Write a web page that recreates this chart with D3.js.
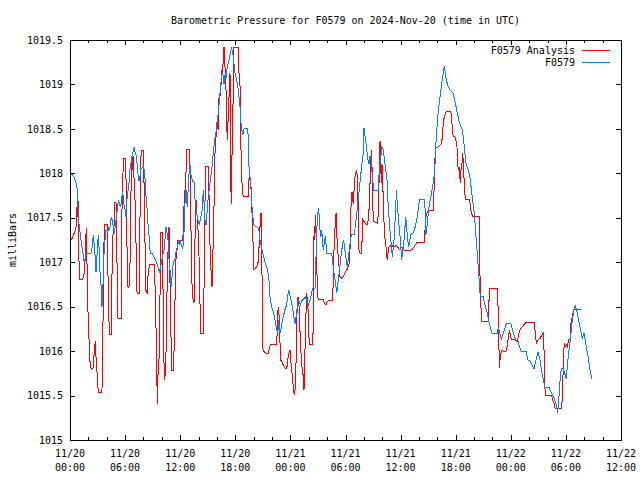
<!DOCTYPE html>
<html><head><meta charset="utf-8">
<script src="https://cdn.jsdelivr.net/npm/d3@7"></script>
<style>
body{margin:0;background:#fff}
text{font-family:"DejaVu Sans Mono",monospace;font-size:10px;fill:#000}
</style>
</head><body><svg id="c" width="640" height="480"></svg>
<script>
const title = "Barometric Pressure for F0579 on 2024-Nov-20 (time in UTC)";
const yLabel = "milliBars";
const seriesNames = ["F0579 Analysis", "F0579"];
const seriesColors = ["#ff0000", "#0a7cff"];
const startTime = Date.UTC(2024, 10, 20, 0, 0);
const xTickHours = [0, 6, 12, 18, 24, 30, 36, 42, 48, 54, 60];
const xTickDates = ["11/20","11/20","11/20","11/20","11/21","11/21","11/21","11/21","11/22","11/22","11/22"];
const xTickTimes = ["00:00","06:00","12:00","18:00","00:00","06:00","12:00","18:00","00:00","06:00","12:00"];
const yTicks = [1015, 1015.5, 1016, 1016.5, 1017, 1017.5, 1018, 1018.5, 1019, 1019.5];

// [hours since 2024-11-20 00:00 UTC, pressure mb]
const analysisData = [[0,1017.29],[0.2,1017.26],[0.65,1017.38],[0.73,1017.62],[0.80,1017.51],[0.87,1017.70],[0.95,1017.25],[1.01,1016.81],[1.38,1016.81],[1.45,1016.84],[1.56,1016.88],[1.63,1016.99],[1.71,1017.25],[1.78,1017.38],[1.85,1016.99],[1.93,1016.63],[1.99,1016.27],[2.10,1016.09],[2.18,1015.88],[2.32,1015.79],[2.51,1015.81],[2.58,1015.90],[2.65,1016.01],[2.75,1016.11],[2.83,1015.94],[2.91,1015.82],[3.02,1015.64],[3.08,1015.54],[3.48,1015.54],[3.56,1016.01],[3.63,1016.65],[3.70,1017.21],[3.78,1017.43],[4.06,1017.43],[4.14,1016.84],[4.21,1016.50],[4.28,1016.19],[4.50,1016.19],[4.57,1016.84],[4.65,1017.25],[4.72,1017.36],[4.79,1017.40],[4.87,1017.67],[5.01,1017.67],[5.08,1017.36],[5.15,1016.69],[5.23,1016.37],[5.59,1016.37],[5.66,1017.59],[5.74,1017.81],[5.80,1018.17],[6.02,1018.17],[6.10,1017.93],[6.17,1017.44],[6.24,1016.95],[6.32,1016.71],[6.46,1016.74],[6.53,1016.93],[6.61,1017.74],[6.67,1017.85],[6.75,1018.19],[6.83,1018.04],[6.89,1018.19],[7.00,1017.85],[7.08,1017.70],[7.15,1017.44],[7.22,1017.03],[7.30,1016.65],[7.55,1016.65],[7.62,1017.48],[7.70,1018.11],[7.76,1018.26],[7.98,1018.26],[8.06,1017.89],[8.13,1017.44],[8.20,1017.03],[8.28,1016.67],[8.42,1016.65],[8.49,1016.84],[8.57,1016.90],[8.64,1016.98],[9.15,1016.98],[9.22,1016.91],[9.29,1016.59],[9.37,1016.24],[9.44,1015.81],[9.51,1015.41],[9.58,1015.73],[9.66,1015.79],[9.72,1016.01],[9.80,1016.61],[9.88,1017.33],[10.05,1017.33],[10.13,1016.69],[10.20,1016.09],[10.27,1015.68],[10.34,1015.71],[10.42,1015.86],[10.49,1016.13],[10.56,1016.65],[10.64,1016.99],[10.70,1017.21],[10.78,1017.40],[10.85,1016.99],[10.92,1016.61],[11.00,1016.16],[11.07,1015.78],[11.25,1015.78],[11.32,1015.98],[11.40,1016.35],[11.47,1016.80],[11.54,1017.03],[11.68,1017.16],[11.76,1017.25],[12.27,1017.25],[12.34,1017.36],[12.41,1017.62],[12.52,1017.81],[12.63,1018.00],[12.71,1018.27],[12.99,1018.27],[13.07,1018.00],[13.14,1017.70],[13.18,1017.33],[13.25,1016.91],[13.32,1016.61],[13.43,1016.58],[13.50,1016.54],[13.58,1016.88],[13.64,1017.55],[13.72,1017.70],[13.80,1017.59],[13.90,1017.40],[13.97,1017.33],[14.05,1017.06],[14.13,1016.69],[14.19,1016.35],[14.26,1016.20],[14.52,1016.20],[14.59,1016.69],[14.67,1017.25],[14.73,1018.07],[15.03,1018.08],[15.10,1017.93],[15.17,1017.62],[15.24,1017.21],[15.32,1016.95],[15.39,1016.88],[15.46,1016.72],[15.54,1017.03],[15.60,1017.25],[15.68,1017.62],[15.75,1018.00],[15.82,1018.38],[15.90,1018.41],[15.97,1018.49],[16.04,1018.64],[16.12,1018.49],[16.19,1018.79],[16.26,1018.90],[16.33,1018.86],[16.41,1018.94],[16.48,1019.05],[16.55,1019.16],[16.63,1019.13],[16.69,1019.31],[16.77,1019.42],[16.84,1019.28],[16.91,1019.13],[16.99,1018.94],[17.06,1018.56],[17.13,1018.38],[17.20,1018.56],[17.28,1018.75],[17.35,1018.97],[17.42,1019.13],[17.50,1018.75],[17.53,1017.81],[17.56,1017.66],[17.61,1018.11],[17.67,1018.30],[17.75,1018.75],[17.78,1019.42],[18.33,1019.42],[18.40,1019.13],[18.51,1019.01],[18.59,1018.49],[18.65,1018.07],[18.73,1017.89],[18.81,1017.78],[18.87,1017.74],[19.42,1017.74],[19.49,1017.93],[19.60,1017.96],[19.68,1017.85],[19.74,1017.81],[19.82,1017.55],[19.89,1017.40],[19.96,1017.08],[20.04,1016.91],[20.33,1016.95],[20.47,1016.99],[20.61,1017.21],[20.69,1017.40],[20.80,1017.55],[20.87,1017.29],[20.94,1016.50],[21.02,1016.01],[21.16,1015.99],[21.34,1015.98],[21.59,1015.97],[21.70,1016.03],[21.85,1016.08],[22.51,1016.08],[22.57,1016.24],[22.65,1016.46],[22.73,1016.50],[22.79,1016.31],[22.87,1016.09],[22.94,1015.90],[23.08,1015.88],[23.23,1015.84],[23.44,1015.81],[23.60,1015.80],[23.74,1015.92],[23.85,1015.98],[23.96,1016.01],[24.03,1015.90],[24.14,1015.79],[24.25,1015.68],[24.32,1015.58],[24.39,1015.53],[24.47,1015.51],[24.53,1015.60],[24.61,1015.86],[24.68,1016.20],[24.75,1016.61],[24.82,1016.50],[24.90,1016.61],[24.97,1016.43],[25.04,1016.24],[25.12,1016.05],[25.23,1015.84],[25.34,1015.79],[25.41,1015.68],[25.48,1015.56],[25.56,1015.90],[25.62,1016.13],[25.70,1016.43],[25.77,1016.65],[25.84,1016.58],[25.91,1016.50],[25.99,1016.24],[26.06,1016.07],[26.43,1016.07],[26.49,1016.31],[26.57,1017.29],[26.64,1017.25],[26.71,1017.53],[26.79,1017.33],[26.86,1017.14],[26.93,1016.61],[27.08,1016.58],[27.58,1016.58],[27.69,1016.54],[27.88,1016.52],[28.02,1016.56],[28.31,1016.57],[28.56,1016.57],[28.67,1016.76],[28.75,1017.14],[28.82,1017.33],[28.89,1017.44],[28.97,1017.55],[29.04,1017.33],[29.15,1017.14],[29.26,1016.99],[29.40,1016.84],[29.59,1016.82],[29.76,1016.84],[29.95,1016.88],[30.13,1016.91],[30.30,1016.95],[30.41,1016.99],[30.49,1017.14],[30.56,1017.51],[30.63,1017.70],[30.71,1017.79],[30.78,1017.70],[30.85,1017.66],[30.93,1017.81],[31.03,1017.96],[31.22,1018.04],[31.33,1017.89],[31.39,1017.51],[31.47,1017.14],[31.58,1017.10],[31.76,1017.10],[31.87,1017.48],[32.12,1017.44],[32.34,1017.42],[32.48,1017.48],[32.56,1017.59],[32.67,1017.89],[32.74,1018.07],[32.81,1018.26],[32.89,1018.07],[32.96,1017.70],[33.03,1017.46],[33.46,1017.44],[33.54,1017.51],[33.61,1017.70],[33.68,1018.04],[33.76,1018.36],[33.83,1018.11],[33.90,1017.89],[33.97,1018.11],[34.05,1017.89],[34.12,1017.70],[34.19,1017.46],[34.27,1017.29],[34.41,1017.17],[34.49,1017.06],[34.55,1017.03],[34.63,1017.10],[34.70,1017.17],[35.03,1017.19],[35.28,1017.17],[35.57,1017.19],[35.86,1017.14],[36.12,1017.17],[36.30,1017.14],[36.48,1017.13],[37.02,1017.13],[37.21,1017.14],[37.38,1017.16],[37.57,1017.19],[37.75,1017.22],[38.55,1017.22],[38.62,1017.31],[38.69,1017.40],[38.76,1017.51],[38.87,1017.55],[39.02,1017.58],[39.56,1017.58],[39.64,1017.81],[39.71,1018.11],[39.82,1018.28],[40.10,1018.30],[40.29,1018.32],[40.47,1018.34],[40.54,1018.41],[40.65,1018.56],[40.76,1018.64],[40.91,1018.68],[41.02,1018.70],[41.45,1018.70],[41.56,1018.64],[41.63,1018.49],[41.74,1018.41],[41.92,1018.41],[42.00,1018.38],[42.10,1018.34],[42.17,1018.26],[42.25,1018.07],[42.32,1018.04],[42.39,1018.07],[42.50,1017.89],[42.58,1018.04],[42.68,1018.11],[42.76,1018.23],[42.83,1018.11],[42.90,1017.96],[42.98,1017.81],[43.04,1017.71],[43.48,1017.71],[43.56,1017.66],[43.63,1017.59],[43.74,1017.55],[43.85,1017.51],[44.54,1017.51],[44.57,1017.21],[44.65,1016.84],[44.72,1016.65],[44.79,1016.33],[45.55,1016.33],[45.63,1016.58],[45.70,1016.71],[46.53,1016.71],[46.61,1016.50],[46.68,1016.24],[46.75,1015.81],[46.82,1015.90],[46.90,1015.96],[47.01,1016.01],[47.37,1015.99],[47.55,1016.01],[47.62,1016.07],[47.70,1016.13],[47.77,1016.16],[47.84,1016.24],[47.91,1016.20],[47.99,1016.16],[48.10,1016.13],[48.46,1016.13],[48.64,1016.11],[48.82,1016.16],[48.89,1016.20],[49.00,1016.24],[49.11,1016.26],[49.22,1016.27],[49.36,1016.29],[49.54,1016.31],[49.65,1016.32],[50.56,1016.32],[50.63,1016.24],[50.71,1016.16],[50.78,1016.09],[50.88,1016.11],[50.99,1016.13],[51.18,1016.14],[51.36,1016.18],[51.54,1016.20],[51.61,1016.05],[51.69,1015.68],[51.75,1015.50],[52.45,1015.50],[52.52,1015.47],[52.63,1015.43],[52.74,1015.41],[52.81,1015.36],[53.54,1015.36],[53.61,1015.49],[53.68,1015.71],[53.76,1015.98],[53.83,1016.09],[53.94,1016.05],[54.04,1016.07],[54.15,1016.05],[54.23,1016.09],[54.30,1016.13],[54.44,1016.13],[54.52,1016.24],[54.55,1016.31],[54.70,1016.39],[54.77,1016.43],[54.85,1016.47],[55.61,1016.47]];

const stationData = [[0,1018.00],[0.29,1017.98],[0.47,1017.95],[0.65,1017.89],[0.76,1017.84],[0.84,1017.70],[0.90,1017.53],[1.01,1017.40],[1.20,1017.25],[1.38,1017.12],[1.56,1016.99],[1.74,1017.10],[2.29,1017.10],[2.40,1017.16],[2.54,1017.31],[2.65,1017.17],[2.75,1017.05],[2.83,1016.89],[3.02,1017.22],[3.08,1017.31],[3.16,1017.17],[3.23,1017.01],[3.30,1016.80],[3.41,1016.72],[3.48,1016.50],[3.56,1016.65],[3.67,1016.99],[3.73,1017.16],[3.81,1017.25],[3.92,1017.36],[4.03,1017.36],[4.11,1017.33],[4.21,1017.40],[4.32,1017.36],[4.43,1017.47],[4.54,1017.50],[4.65,1017.44],[4.76,1017.36],[4.82,1017.33],[4.93,1017.40],[5.09,1017.55],[5.19,1017.62],[5.26,1017.70],[5.37,1017.67],[5.48,1017.62],[5.59,1017.67],[5.66,1017.74],[5.74,1017.79],[5.80,1017.72],[5.91,1017.62],[6.02,1017.59],[6.10,1017.51],[6.17,1017.67],[6.28,1017.78],[6.39,1017.85],[6.46,1017.93],[6.53,1018.04],[6.64,1018.11],[6.75,1018.19],[6.83,1018.23],[6.94,1018.26],[7.00,1018.30],[7.08,1018.24],[7.19,1018.21],[7.30,1018.11],[7.40,1018.00],[7.51,1017.91],[7.62,1017.96],[7.73,1018.06],[7.84,1018.06],[7.98,1018.07],[8.09,1018.04],[8.20,1017.89],[8.28,1017.74],[8.38,1017.62],[8.46,1017.47],[8.57,1017.36],[8.64,1017.25],[8.74,1017.10],[8.93,1017.10],[9.15,1017.06],[9.29,1017.03],[9.44,1016.99],[9.58,1016.95],[9.72,1016.89],[9.88,1016.95],[9.99,1017.01],[10.09,1017.08],[10.24,1017.14],[10.34,1017.25],[10.45,1017.40],[10.56,1017.33],[10.67,1017.25],[10.81,1016.99],[10.92,1016.88],[11.00,1016.72],[11.11,1016.84],[11.22,1016.97],[11.36,1017.03],[11.47,1017.06],[11.58,1017.14],[11.73,1017.19],[11.84,1017.25],[11.95,1017.19],[12.01,1017.25],[12.12,1017.19],[12.27,1017.16],[12.38,1017.22],[12.49,1017.59],[12.56,1017.74],[12.63,1017.81],[12.77,1017.62],[12.88,1017.85],[12.99,1018.04],[13.07,1018.09],[13.18,1017.98],[13.36,1017.91],[13.50,1017.91],[13.64,1017.66],[13.86,1017.51],[14.08,1017.42],[14.16,1017.46],[14.37,1017.57],[14.52,1017.81],[14.59,1017.68],[14.70,1017.48],[14.81,1017.42],[14.92,1017.55],[15.03,1017.70],[15.24,1017.89],[15.46,1018.07],[15.71,1018.34],[15.93,1018.49],[16.15,1018.69],[16.33,1018.88],[16.48,1019.07],[16.63,1019.14],[16.77,1019.01],[16.91,1019.13],[16.99,1019.07],[17.13,1019.20],[17.35,1019.29],[17.50,1019.37],[17.59,1019.42],[17.78,1019.31],[17.97,1019.13],[18.15,1019.05],[18.33,1018.94],[18.51,1018.75],[18.59,1018.60],[18.70,1018.49],[18.81,1018.43],[18.98,1018.51],[19.35,1018.51],[19.42,1018.38],[19.49,1018.07],[19.71,1017.85],[19.79,1017.66],[20.00,1017.42],[20.55,1017.38],[20.69,1017.25],[20.94,1017.12],[21.16,1017.03],[21.42,1016.95],[21.64,1016.84],[21.78,1016.61],[21.96,1016.50],[22.14,1016.44],[22.36,1016.33],[22.51,1016.24],[22.62,1016.20],[22.73,1016.35],[22.79,1016.27],[22.90,1016.20],[23.01,1016.27],[23.23,1016.39],[23.44,1016.48],[23.60,1016.52],[23.71,1016.63],[23.82,1016.69],[24.03,1016.59],[24.25,1016.48],[24.42,1016.35],[24.53,1016.31],[24.75,1016.50],[24.86,1016.58],[25.08,1016.52],[25.30,1016.58],[25.51,1016.59],[25.62,1016.61],[25.84,1016.56],[25.95,1016.52],[26.17,1016.58],[26.38,1016.69],[26.49,1016.71],[26.68,1016.71],[26.79,1017.06],[26.93,1017.51],[27.08,1017.61],[27.22,1017.36],[27.33,1017.29],[27.41,1017.36],[27.58,1017.14],[27.80,1017.29],[27.98,1017.10],[28.50,1017.10],[28.71,1016.91],[28.93,1016.76],[29.04,1016.65],[29.26,1016.84],[29.48,1017.04],[29.69,1017.21],[29.80,1017.25],[29.98,1017.10],[30.20,1016.95],[30.41,1017.14],[30.63,1017.31],[30.96,1017.31],[31.18,1017.51],[31.39,1017.70],[31.61,1017.93],[31.83,1018.15],[31.94,1018.23],[32.01,1018.51],[32.23,1018.34],[32.45,1018.15],[32.56,1018.11],[32.67,1018.19],[32.78,1018.15],[32.96,1017.93],[33.07,1017.81],[33.57,1017.81],[33.68,1018.04],[33.81,1018.15],[33.97,1018.30],[34.08,1018.28],[34.30,1018.11],[34.52,1017.93],[34.59,1017.74],[34.81,1017.40],[35.03,1017.14],[35.10,1017.06],[35.28,1017.25],[35.47,1017.59],[35.53,1017.81],[35.75,1017.51],[35.97,1017.25],[36.12,1017.03],[36.34,1017.21],[36.56,1017.51],[36.77,1017.25],[36.88,1017.17],[37.10,1017.31],[37.38,1017.33],[37.60,1017.40],[37.82,1017.51],[38.04,1017.70],[38.55,1017.71],[38.66,1017.61],[38.76,1017.31],[38.87,1017.40],[39.09,1017.62],[39.42,1017.81],[39.64,1017.96],[39.75,1018.11],[39.82,1018.30],[40.04,1018.64],[40.29,1018.86],[40.47,1019.01],[40.69,1019.16],[40.76,1019.21],[40.98,1019.05],[41.19,1018.97],[41.52,1018.92],[41.74,1018.90],[41.96,1018.79],[42.17,1018.68],[42.39,1018.58],[42.61,1018.51],[42.72,1018.49],[42.83,1018.41],[43.04,1018.19],[43.15,1018.09],[43.37,1018.04],[43.59,1017.93],[43.74,1017.78],[43.92,1017.64],[44.02,1017.55],[44.18,1017.33],[44.35,1017.10],[44.50,1016.88],[44.65,1016.65],[44.72,1016.61],[45.00,1016.61],[45.22,1016.50],[45.44,1016.43],[45.66,1016.31],[45.88,1016.22],[45.98,1016.20],[46.53,1016.20],[46.64,1016.27],[46.86,1016.18],[46.96,1016.13],[47.18,1016.20],[47.40,1016.27],[47.51,1016.31],[48.02,1016.31],[48.24,1016.22],[48.57,1016.11],[48.78,1016.11],[49.11,1016.00],[49.65,1016.00],[49.87,1015.90],[50.09,1015.89],[50.42,1015.82],[50.52,1015.80],[50.74,1015.90],[50.96,1015.99],[51.18,1015.90],[51.40,1015.75],[51.61,1015.64],[51.72,1015.59],[52.16,1015.59],[52.38,1015.54],[52.70,1015.47],[52.92,1015.41],[53.11,1015.30],[53.25,1015.49],[53.39,1015.71],[53.50,1015.80],[53.72,1015.80],[54.04,1015.69],[54.26,1015.94],[54.48,1016.13],[54.70,1016.35],[54.91,1016.48],[55.02,1016.51],[55.24,1016.43],[55.46,1016.31],[55.68,1016.20],[55.78,1016.14],[55.97,1016.20],[56.19,1016.07],[56.41,1015.94],[56.62,1015.79],[56.81,1015.69]];

const HOUR = 3600000;
const toDate = h => new Date(startTime + h * HOUR);
const W = 640, H = 480;
const m = {left: 70, right: 19, top: 40, bottom: 40};
const svg = d3.select("#c");
const x = d3.scaleUtc().domain([toDate(0), toDate(60)]).range([m.left, W - m.right]);
const y = d3.scaleLinear().domain([1015, 1019.5]).range([H - m.bottom, m.top]);

// series
const line = d3.line().x(d => x(toDate(d[0]))).y(d => y(d[1])).curve(d3.curveLinear);
const plot = svg.append("g");
[analysisData, stationData].forEach((data, i) => {
  plot.append("path").datum(data)
    .attr("fill", "none").attr("stroke", seriesColors[i]).attr("stroke-width", 1)
    .attr("shape-rendering", "crispEdges")
    .attr("d", line);
});

// axes (ticks pointing inward)
const minorHours = d3.range(0, 61, 2).filter(h => h % 6 !== 0);
const fmtY = d => (d % 1 === 0 ? String(d) : d.toFixed(1));
const ax = svg.append("g").attr("shape-rendering", "crispEdges");
function addAxis(gen, tx, ty) {
  const g = ax.append("g").attr("transform", `translate(${tx},${ty})`).call(gen);
  g.select(".domain").remove();
  g.selectAll("line").attr("stroke", "#000");
  return g;
}
const bottomMajor = addAxis(d3.axisBottom(x).tickValues(xTickHours.map(toDate)).tickSize(-5).tickFormat(""), 0, H - m.bottom);
addAxis(d3.axisBottom(x).tickValues(minorHours.map(toDate)).tickSize(-3).tickFormat(""), 0, H - m.bottom);
addAxis(d3.axisTop(x).tickValues(xTickHours.map(toDate)).tickSize(-5).tickFormat(""), 0, m.top);
addAxis(d3.axisTop(x).tickValues(minorHours.map(toDate)).tickSize(-3).tickFormat(""), 0, m.top);
const leftAx = addAxis(d3.axisLeft(y).tickValues(yTicks).tickSize(-5).tickPadding(7).tickFormat(fmtY), m.left, 0);
leftAx.selectAll("text").attr("font-family", null).attr("font-size", null).attr("x", -7);
addAxis(d3.axisRight(y).tickValues(yTicks).tickSize(-5).tickFormat(""), W - m.right, 0);

// x tick labels (two lines)
const xl = svg.append("g");
xTickHours.forEach((h, i) => {
  const t = xl.append("text").attr("text-anchor", "middle").attr("x", x(toDate(h)));
  t.append("tspan").attr("x", x(toDate(h))).attr("y", 457).text(xTickDates[i]);
  t.append("tspan").attr("x", x(toDate(h))).attr("y", 471).text(xTickTimes[i]);
});

// frame
svg.append("rect").attr("x", m.left).attr("y", m.top)
  .attr("width", W - m.left - m.right).attr("height", H - m.top - m.bottom)
  .attr("fill", "none").attr("stroke", "#000").attr("stroke-width", 1)
  .attr("shape-rendering", "crispEdges");

// title and y label
svg.append("text").attr("x", (m.left + W - m.right) / 2).attr("y", 24)
  .attr("text-anchor", "middle").text(title);
svg.append("text").attr("transform", `translate(16,${(m.top + H - m.bottom) / 2}) rotate(-90)`)
  .attr("text-anchor", "middle").text(yLabel);

// legend
const lg = svg.append("g");
seriesNames.forEach((name, i) => {
  const yy = 50 + i * 12;
  lg.append("text").attr("x", 575).attr("y", yy + 3.5).attr("text-anchor", "end").text(name);
  lg.append("line").attr("x1", 582).attr("x2", 610).attr("y1", yy).attr("y2", yy)
    .attr("stroke", seriesColors[i]).attr("stroke-width", 1).attr("shape-rendering", "crispEdges");
});
</script>
</body></html>
